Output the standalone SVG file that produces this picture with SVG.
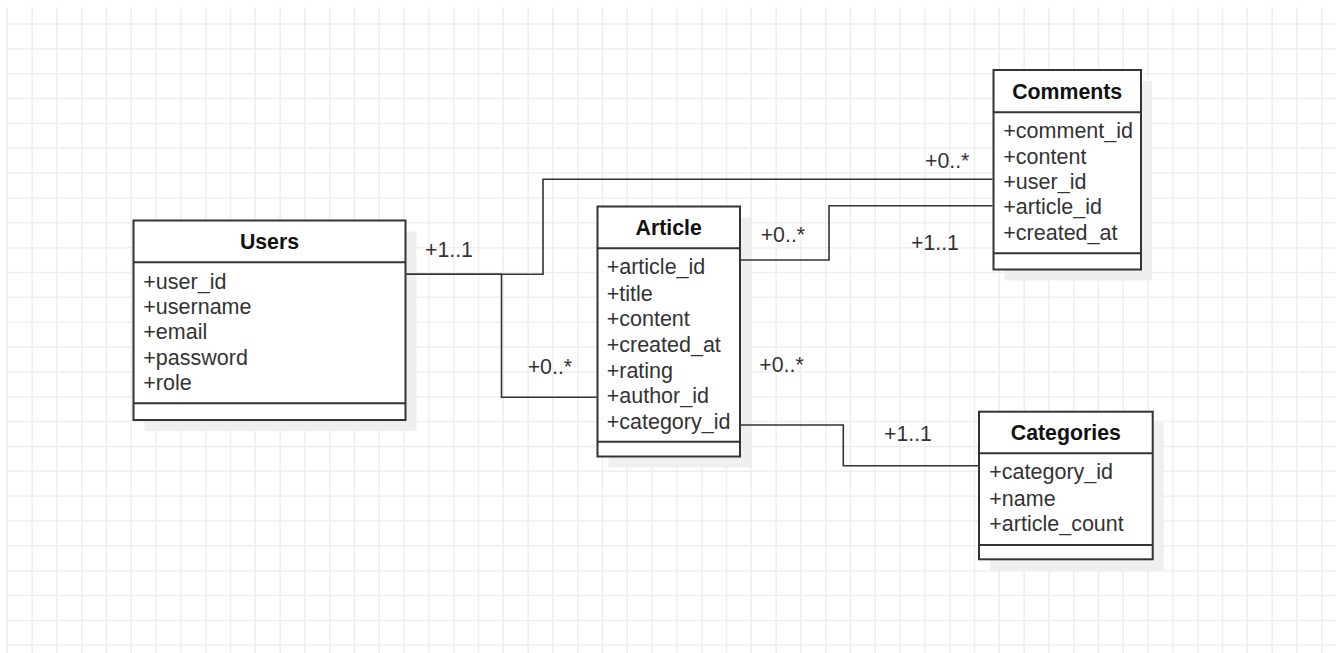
<svg xmlns="http://www.w3.org/2000/svg" width="1336" height="653" viewBox="0 0 1336 653">
<style>
.grid{stroke:#eeeeee;stroke-width:1.5;fill:none}
.shadow{fill:#efefef}
.box{fill:#ffffff;stroke:#333333;stroke-width:2}
.sep{stroke:#333333;stroke-width:2}
.title{font-family:"Liberation Sans",Arial,sans-serif;font-size:21.3px;font-weight:bold;fill:#111111;text-anchor:middle}
.attr{font-family:"Liberation Sans",Arial,sans-serif;font-size:21.5px;fill:#333333}
.edge{fill:none;stroke:#333333;stroke-width:1.6}
.lbl{font-family:"Liberation Sans",Arial,sans-serif;font-size:21.3px;fill:#333333}
</style>
<rect x="0" y="0" width="1336" height="653" fill="#ffffff"/>
<g id="grid">
<path class="grid" d="M7.3 7V653M32.1 7V653M56.9 7V653M81.7 7V653M106.5 7V653M131.3 7V653M156.1 7V653M180.9 7V653M205.7 7V653M230.5 7V653M255.3 7V653M280.1 7V653M304.9 7V653M329.7 7V653M354.5 7V653M379.3 7V653M404.1 7V653M428.9 7V653M453.7 7V653M478.5 7V653M503.3 7V653M528.1 7V653M552.9 7V653M577.7 7V653M602.5 7V653M627.3 7V653M652.1 7V653M676.9 7V653M701.7 7V653M726.5 7V653M751.3 7V653M776.1 7V653M800.9 7V653M825.7 7V653M850.5 7V653M875.3 7V653M900.1 7V653M924.9 7V653M949.7 7V653M974.5 7V653M999.3 7V653M1024.1 7V653M1048.9 7V653M1073.7 7V653M1098.5 7V653M1123.3 7V653M1148.1 7V653M1172.9 7V653M1197.7 7V653M1222.5 7V653M1247.3 7V653M1272.1 7V653M1296.9 7V653M1321.7 7V653"/>
<path class="grid" d="M7 24H1336M7 48.85H1336M7 73.7H1336M7 98.55H1336M7 123.4H1336M7 148.25H1336M7 173.1H1336M7 197.95H1336M7 222.8H1336M7 247.65H1336M7 272.5H1336M7 297.35H1336M7 322.2H1336M7 347.05H1336M7 371.9H1336M7 396.75H1336M7 421.6H1336M7 446.45H1336M7 471.3H1336M7 496.15H1336M7 521H1336M7 545.85H1336M7 570.7H1336M7 595.55H1336M7 620.4H1336M7 645.25H1336"/>
</g>
<g id="Users">
<rect class="shadow" x="144.5" y="231.5" width="272" height="199.5"/>
<rect class="box" x="133.5" y="220.5" width="272" height="199.5"/>
<line class="sep" x1="133.5" y1="262.3" x2="405.5" y2="262.3"/>
<line class="sep" x1="133.5" y1="403.3" x2="405.5" y2="403.3"/>
<text class="title" x="269.5" y="249.3">Users</text>
<text class="attr" x="143.3" y="288.6">+user_id</text>
<text class="attr" x="143.3" y="314">+username</text>
<text class="attr" x="143.3" y="339.4">+email</text>
<text class="attr" x="143.3" y="364.8">+password</text>
<text class="attr" x="143.3" y="390.2">+role</text>
</g>
<g id="Article">
<rect class="shadow" x="608.5" y="217.5" width="142.5" height="250"/>
<rect class="box" x="597.5" y="206.5" width="142.5" height="250"/>
<line class="sep" x1="597.5" y1="248.3" x2="740" y2="248.3"/>
<line class="sep" x1="597.5" y1="441.7" x2="740" y2="441.7"/>
<text class="title" x="668.7" y="235.3">Article</text>
<text class="attr" x="606.7" y="274.3">+article_id</text>
<text class="attr" x="606.7" y="300.5">+title</text>
<text class="attr" x="606.7" y="326">+content</text>
<text class="attr" x="606.7" y="352">+created_at</text>
<text class="attr" x="606.7" y="377.5">+rating</text>
<text class="attr" x="606.7" y="402.8">+author_id</text>
<text class="attr" x="606.7" y="428.5">+category_id</text>
</g>
<g id="Comments">
<rect class="shadow" x="1004.5" y="81" width="147.5" height="199.5"/>
<rect class="box" x="993.5" y="70" width="147.5" height="199.5"/>
<line class="sep" x1="993.5" y1="112.3" x2="1141" y2="112.3"/>
<line class="sep" x1="993.5" y1="253.3" x2="1141" y2="253.3"/>
<text class="title" x="1067.2" y="99.3">Comments</text>
<text class="attr" x="1003.3" y="138.3">+comment_id</text>
<text class="attr" x="1003.3" y="164.3">+content</text>
<text class="attr" x="1003.3" y="189.3">+user_id</text>
<text class="attr" x="1003.3" y="214.3">+article_id</text>
<text class="attr" x="1003.3" y="240.3">+created_at</text>
</g>
<g id="Categories">
<rect class="shadow" x="990" y="422.7" width="173.7" height="147.6"/>
<rect class="box" x="979" y="411.7" width="173.7" height="147.6"/>
<line class="sep" x1="979" y1="453.3" x2="1152.7" y2="453.3"/>
<line class="sep" x1="979" y1="545" x2="1152.7" y2="545"/>
<text class="title" x="1065.8" y="440.3">Categories</text>
<text class="attr" x="989.3" y="479.3">+category_id</text>
<text class="attr" x="989.3" y="505.9">+name</text>
<text class="attr" x="989.3" y="530.9">+article_count</text>
</g>
<g id="connectors">
<path class="edge" d="M406.5 274.3H543V179.2H992.5"/>
<path class="edge" d="M406.5 274.3H501.5V397.3H596.5"/>
<path class="edge" d="M741 260H829V205.7H992.5"/>
<path class="edge" d="M741 425H843.3V465.7H978"/>
<text class="lbl" x="425" y="257">+1..1</text>
<text class="lbl" x="527.7" y="374.3">+0..*</text>
<text class="lbl" x="925" y="168.3">+0..*</text>
<text class="lbl" x="760.7" y="242">+0..*</text>
<text class="lbl" x="911" y="250.3">+1..1</text>
<text class="lbl" x="759.3" y="371.6">+0..*</text>
<text class="lbl" x="884" y="441">+1..1</text>
</g>
</svg>
